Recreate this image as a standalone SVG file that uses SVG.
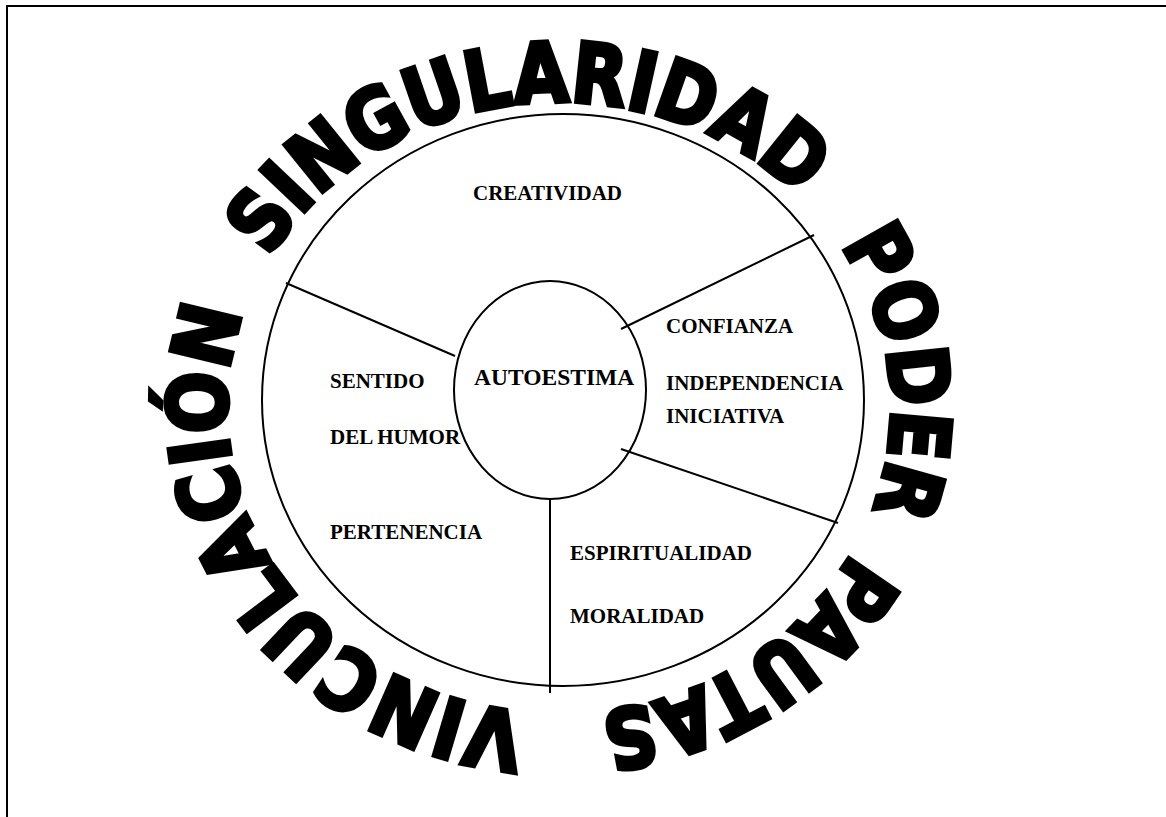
<svg xmlns="http://www.w3.org/2000/svg" xmlns:xlink="http://www.w3.org/1999/xlink" width="1166" height="817" viewBox="0 0 1166 817">
  <style>
    .line { stroke: #000; stroke-width: 2; fill: none; }
    .lbl { font-family: "Liberation Serif", "Times New Roman", serif; font-weight: bold; font-size: 21px; fill: #000; }
    .ring { font-family: "DejaVu Sans", "Liberation Sans", sans-serif; font-weight: bold; font-size: 83px; fill: #000; stroke: #000; stroke-width: 4.5; stroke-linejoin: miter; }
  </style>
  <defs>
    <path id="ringPath" d="M 227,408 A 332,306 0 0 1 891,408 A 332,306 0 0 1 227,408 A 332,306 0 0 1 891,408 A 332,306 0 0 1 227,408"/>
  </defs>
  <rect x="0" y="0" width="1166" height="817" fill="#fff"/>
  <polyline class="line" points="7,817 7,6 1166,6"/>

  <g id="outer-circle">
    <ellipse class="line" cx="563" cy="400" rx="301" ry="286"/>
  </g>

  <g id="connectors">
    <line class="line" x1="286" y1="283" x2="455" y2="356"/>
    <line class="line" x1="814" y1="235" x2="621" y2="329"/>
    <line class="line" x1="621" y1="449" x2="838" y2="523"/>
    <line class="line" x1="550" y1="499" x2="550" y2="693"/>
  </g>

  <g id="autoestima">
    <ellipse class="line" cx="550" cy="390" rx="96" ry="109"/>
    <text class="lbl" x="474" y="385" style="font-size:23.5px">AUTOESTIMA</text>
  </g>

  <g id="creatividad">
    <text class="lbl" x="473" y="200">CREATIVIDAD</text>
  </g>
  <g id="sentido-humor">
    <text class="lbl" x="330" y="388">SENTIDO</text>
    <text class="lbl" x="330" y="444">DEL HUMOR</text>
  </g>
  <g id="pertenencia">
    <text class="lbl" x="330" y="539">PERTENENCIA</text>
  </g>
  <g id="confianza">
    <text class="lbl" x="666" y="333">CONFIANZA</text>
    <text class="lbl" x="666" y="390">INDEPENDENCIA</text>
    <text class="lbl" x="666" y="423">INICIATIVA</text>
  </g>
  <g id="espiritualidad">
    <text class="lbl" x="570" y="560">ESPIRITUALIDAD</text>
    <text class="lbl" x="570" y="623">MORALIDAD</text>
  </g>

  <g id="singularidad">
    <text class="ring"><textPath xlink:href="#ringPath" href="#ringPath" startOffset="158" textLength="608" lengthAdjust="spacingAndGlyphs">SINGULARIDAD</textPath></text>
  </g>
  <g id="poder">
    <text class="ring"><textPath xlink:href="#ringPath" href="#ringPath" startOffset="829" textLength="278" lengthAdjust="spacingAndGlyphs">PODER</textPath></text>
  </g>
  <g id="pautas">
    <text class="ring"><textPath xlink:href="#ringPath" href="#ringPath" startOffset="1153" textLength="310" lengthAdjust="spacingAndGlyphs">PAUTAS</textPath></text>
  </g>
  <g id="vinculacion">
    <text class="ring"><textPath xlink:href="#ringPath" href="#ringPath" startOffset="1536" textLength="566" lengthAdjust="spacingAndGlyphs">VINCULACIÓN</textPath></text>
  </g>
</svg>
